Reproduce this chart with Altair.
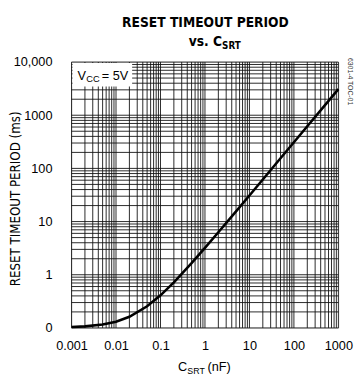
import altair as alt
import pandas as pd

# Curve (C_SRT in nF, reset timeout in ms)
c_srt = [0.001, 0.002, 0.005, 0.01, 0.02, 0.05, 0.1, 0.2, 0.5, 1, 2, 5, 10, 20, 50, 100, 200, 500, 1000]
t_ms = [0.104, 0.107, 0.116, 0.131, 0.162, 0.255, 0.41, 0.72, 1.65, 3.2, 6.3, 15.6, 31, 62, 155, 310, 620, 1550, 3100]

x_major = [0.001, 0.01, 0.1, 1, 10, 100, 1000]
y_major = [0.1, 1, 10, 100, 1000, 10000]
y_labels = ["0", "1", "10", "100", "1000", "10,000"]
mult = [1, 2, 3, 4, 5, 6, 7, 8, 9]

x_grid = [m * d for d in x_major[:-1] for m in mult] + [x_major[-1]]
y_grid = [m * d for d in y_major[:-1] for m in mult] + [y_major[-1]]

W, H = 273, 272
FONT = "Liberation Sans, Arial, sans-serif"
NARROW = "DejaVu Sans Condensed, Liberation Sans, sans-serif"

df = pd.DataFrame({"c": c_srt, "t": t_ms})
xs = alt.Scale(type="log", domain=[x_major[0], x_major[-1]], nice=False)
ys = alt.Scale(type="log", domain=[y_major[0], y_major[-1]], nice=False)

label_map = "{" + ",".join(f"'{v:g}':'{l}'" for v, l in zip(y_major, y_labels)) + "}"

vgrid = alt.Chart(pd.DataFrame({"g": x_grid})).mark_rule(color="#111", strokeWidth=0.9).encode(
    x=alt.X("g:Q", scale=xs,
            axis=alt.Axis(values=x_major, format="~g", title=None, grid=False, ticks=False,
                          domain=False, labelFont=FONT, labelFontSize=13, labelColor="#000",
                          labelPadding=12, labelFlush=False))
)
hgrid = alt.Chart(pd.DataFrame({"g": y_grid})).mark_rule(color="#111", strokeWidth=0.9).encode(
    y=alt.Y("g:Q", scale=ys,
            axis=alt.Axis(values=y_major, labelExpr=f"{label_map}[format(datum.value, '~g')]",
                          title=None, grid=False, ticks=False, domain=False, labelFont=FONT,
                          labelFontSize=13, labelColor="#000", labelPadding=20))
)

one = pd.DataFrame({"a": [0]})
box = alt.Chart(one).mark_rect(color="white", x=1, x2=62, y=1, y2=25)

curve = alt.Chart(df).mark_line(color="#000", strokeWidth=2.6).encode(
    x=alt.X("c:Q", scale=xs), y=alt.Y("t:Q", scale=ys)
)

def txt(s, x, y, size, font=FONT, weight="normal", align="left", angle=0, color="#000"):
    return alt.Chart(one).mark_text(text=s, x=x, y=y, fontSize=size, font=font, fontWeight=weight,
                                    align=align, baseline="alphabetic", angle=angle, color=color)

texts = [
    txt("RESET TIMEOUT PERIOD", 137, -36, 14, NARROW, "bold", "center"),
    txt("vs. C", 154, -16, 14, NARROW, "bold", "right"),
    txt("SRT", 154, -13, 10, NARROW, "bold", "left"),
    txt("RESET TIMEOUT PERIOD (ms)", -53, 140, 13.5, NARROW, "normal", "center", 270),
    txt("C", 109, 316, 13, FONT, "normal", "left"),
    txt("SRT", 118.5, 319, 9, FONT, "normal", "left"),
    txt("(nF)", 139, 316, 13, FONT, "normal", "left"),
    txt("V", 6, 18, 13, FONT, "normal", "left"),
    txt("CC", 15, 20, 9.5, FONT, "normal", "left"),
    txt("= 5V", 31, 18, 13, FONT, "normal", "left"),
    txt("6301-4 TOC-01", 283, 20, 7, FONT, "normal", "center", 90, "#333"),
]

chart = alt.layer(vgrid, hgrid, box, curve, *texts).properties(
    width=W, height=H,
    autosize=alt.AutoSizeParams(type="none"),
    padding={"left": 65, "top": 51, "right": 17, "bottom": 50},
).configure_view(stroke="#000", strokeWidth=2.5).configure(background="white")

chart.save("out.html", embed_options={"renderer": "svg", "actions": False})
